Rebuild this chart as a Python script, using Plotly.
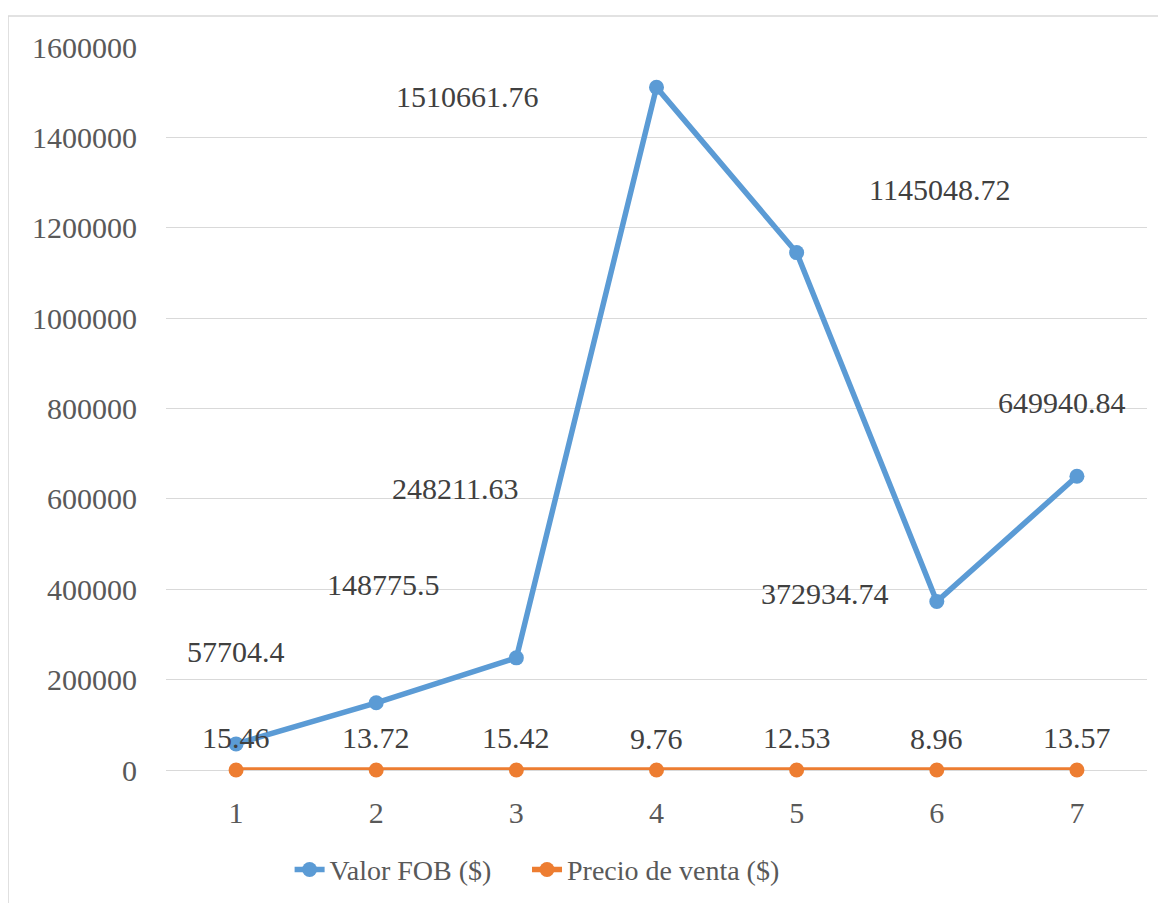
import plotly.graph_objects as go

categories = [1, 2, 3, 4, 5, 6, 7]
valor_fob = [57704.4, 148775.5, 248211.63, 1510661.76, 1145048.72, 372934.74, 649940.84]
precio_venta = [15.46, 13.72, 15.42, 9.76, 12.53, 8.96, 13.57]
fob_labels = ["57704.4", "148775.5", "248211.63", "1510661.76", "1145048.72", "372934.74", "649940.84"]
precio_labels = ["15.46", "13.72", "15.42", "9.76", "12.53", "8.96", "13.57"]
y_ticks = [0, 200000, 400000, 600000, 800000, 1000000, 1200000, 1400000, 1600000]

# label offsets (pixels) to mimic the reference label placement
fob_shift = [(0, 92), (7, 118), (-61, 169), (-189, -9), (143, 63), (-112, 8), (-15, 74)]

FONT = "Liberation Serif"
BLUE = "#5B9BD5"
ORANGE = "#ED7D31"

fig = go.Figure()
fig.add_trace(go.Scatter(x=categories, y=valor_fob, mode="lines+markers", name="Valor FOB ($)",
                         line=dict(color=BLUE, width=5.5), marker=dict(color=BLUE, size=15),
                         cliponaxis=False, legend="legend"))
fig.add_trace(go.Scatter(x=categories, y=precio_venta, mode="lines+markers", name="Precio de venta ($)",
                         line=dict(color=ORANGE, width=5.5), marker=dict(color=ORANGE, size=15),
                         cliponaxis=False, legend="legend2"))

for xv, yv, t, (dx, dy) in zip(categories, valor_fob, fob_labels, fob_shift):
    fig.add_annotation(x=xv, y=yv, text=t, showarrow=False, xshift=dx, yshift=dy,
                       font=dict(family=FONT, size=30, color="#404040"))
for xv, yv, t in zip(categories, precio_venta, precio_labels):
    fig.add_annotation(x=xv, y=yv, text=t, showarrow=False, yshift=32,
                       font=dict(family=FONT, size=30, color="#404040"))

fig.add_shape(type="rect", xref="paper", yref="paper", x0=-0.161, x1=1.06, y0=-0.2, y1=1.043,
              line=dict(color="#D9D9D9", width=1.5), fillcolor="rgba(0,0,0,0)", layer="below")

legend_style = dict(orientation="h", y=-0.138, yanchor="middle", xanchor="left",
                    font=dict(family=FONT, size=28, color="#595959"),
                    bgcolor="rgba(0,0,0,0)")

fig.update_layout(
    width=1166, height=903,
    margin=dict(l=158, r=27, t=39, b=141),
    paper_bgcolor="white", plot_bgcolor="white",
    font=dict(family=FONT, size=30, color="#595959"),
    showlegend=True,
    legend=dict(x=0.126, **legend_style),
    legend2=dict(x=0.368, **legend_style),
)
fig.update_xaxes(range=[0.5, 7.5], tickvals=categories, ticktext=[str(c) for c in categories],
                 showgrid=False, zeroline=False, showline=False, ticks="", ticklabelstandoff=22,
                 tickfont=dict(family=FONT, size=30, color="#595959"))
fig.update_yaxes(range=[0, 1600000], tickvals=y_ticks, ticktext=[str(v) for v in y_ticks],
                 showgrid=True, gridcolor="#D9D9D9", gridwidth=1.3, zeroline=True,
                 zerolinecolor="#D9D9D9", zerolinewidth=1.3, showline=False, ticks="",
                 ticklabelstandoff=28, tickfont=dict(family=FONT, size=30, color="#595959"))

fig.write_html("out.html")
